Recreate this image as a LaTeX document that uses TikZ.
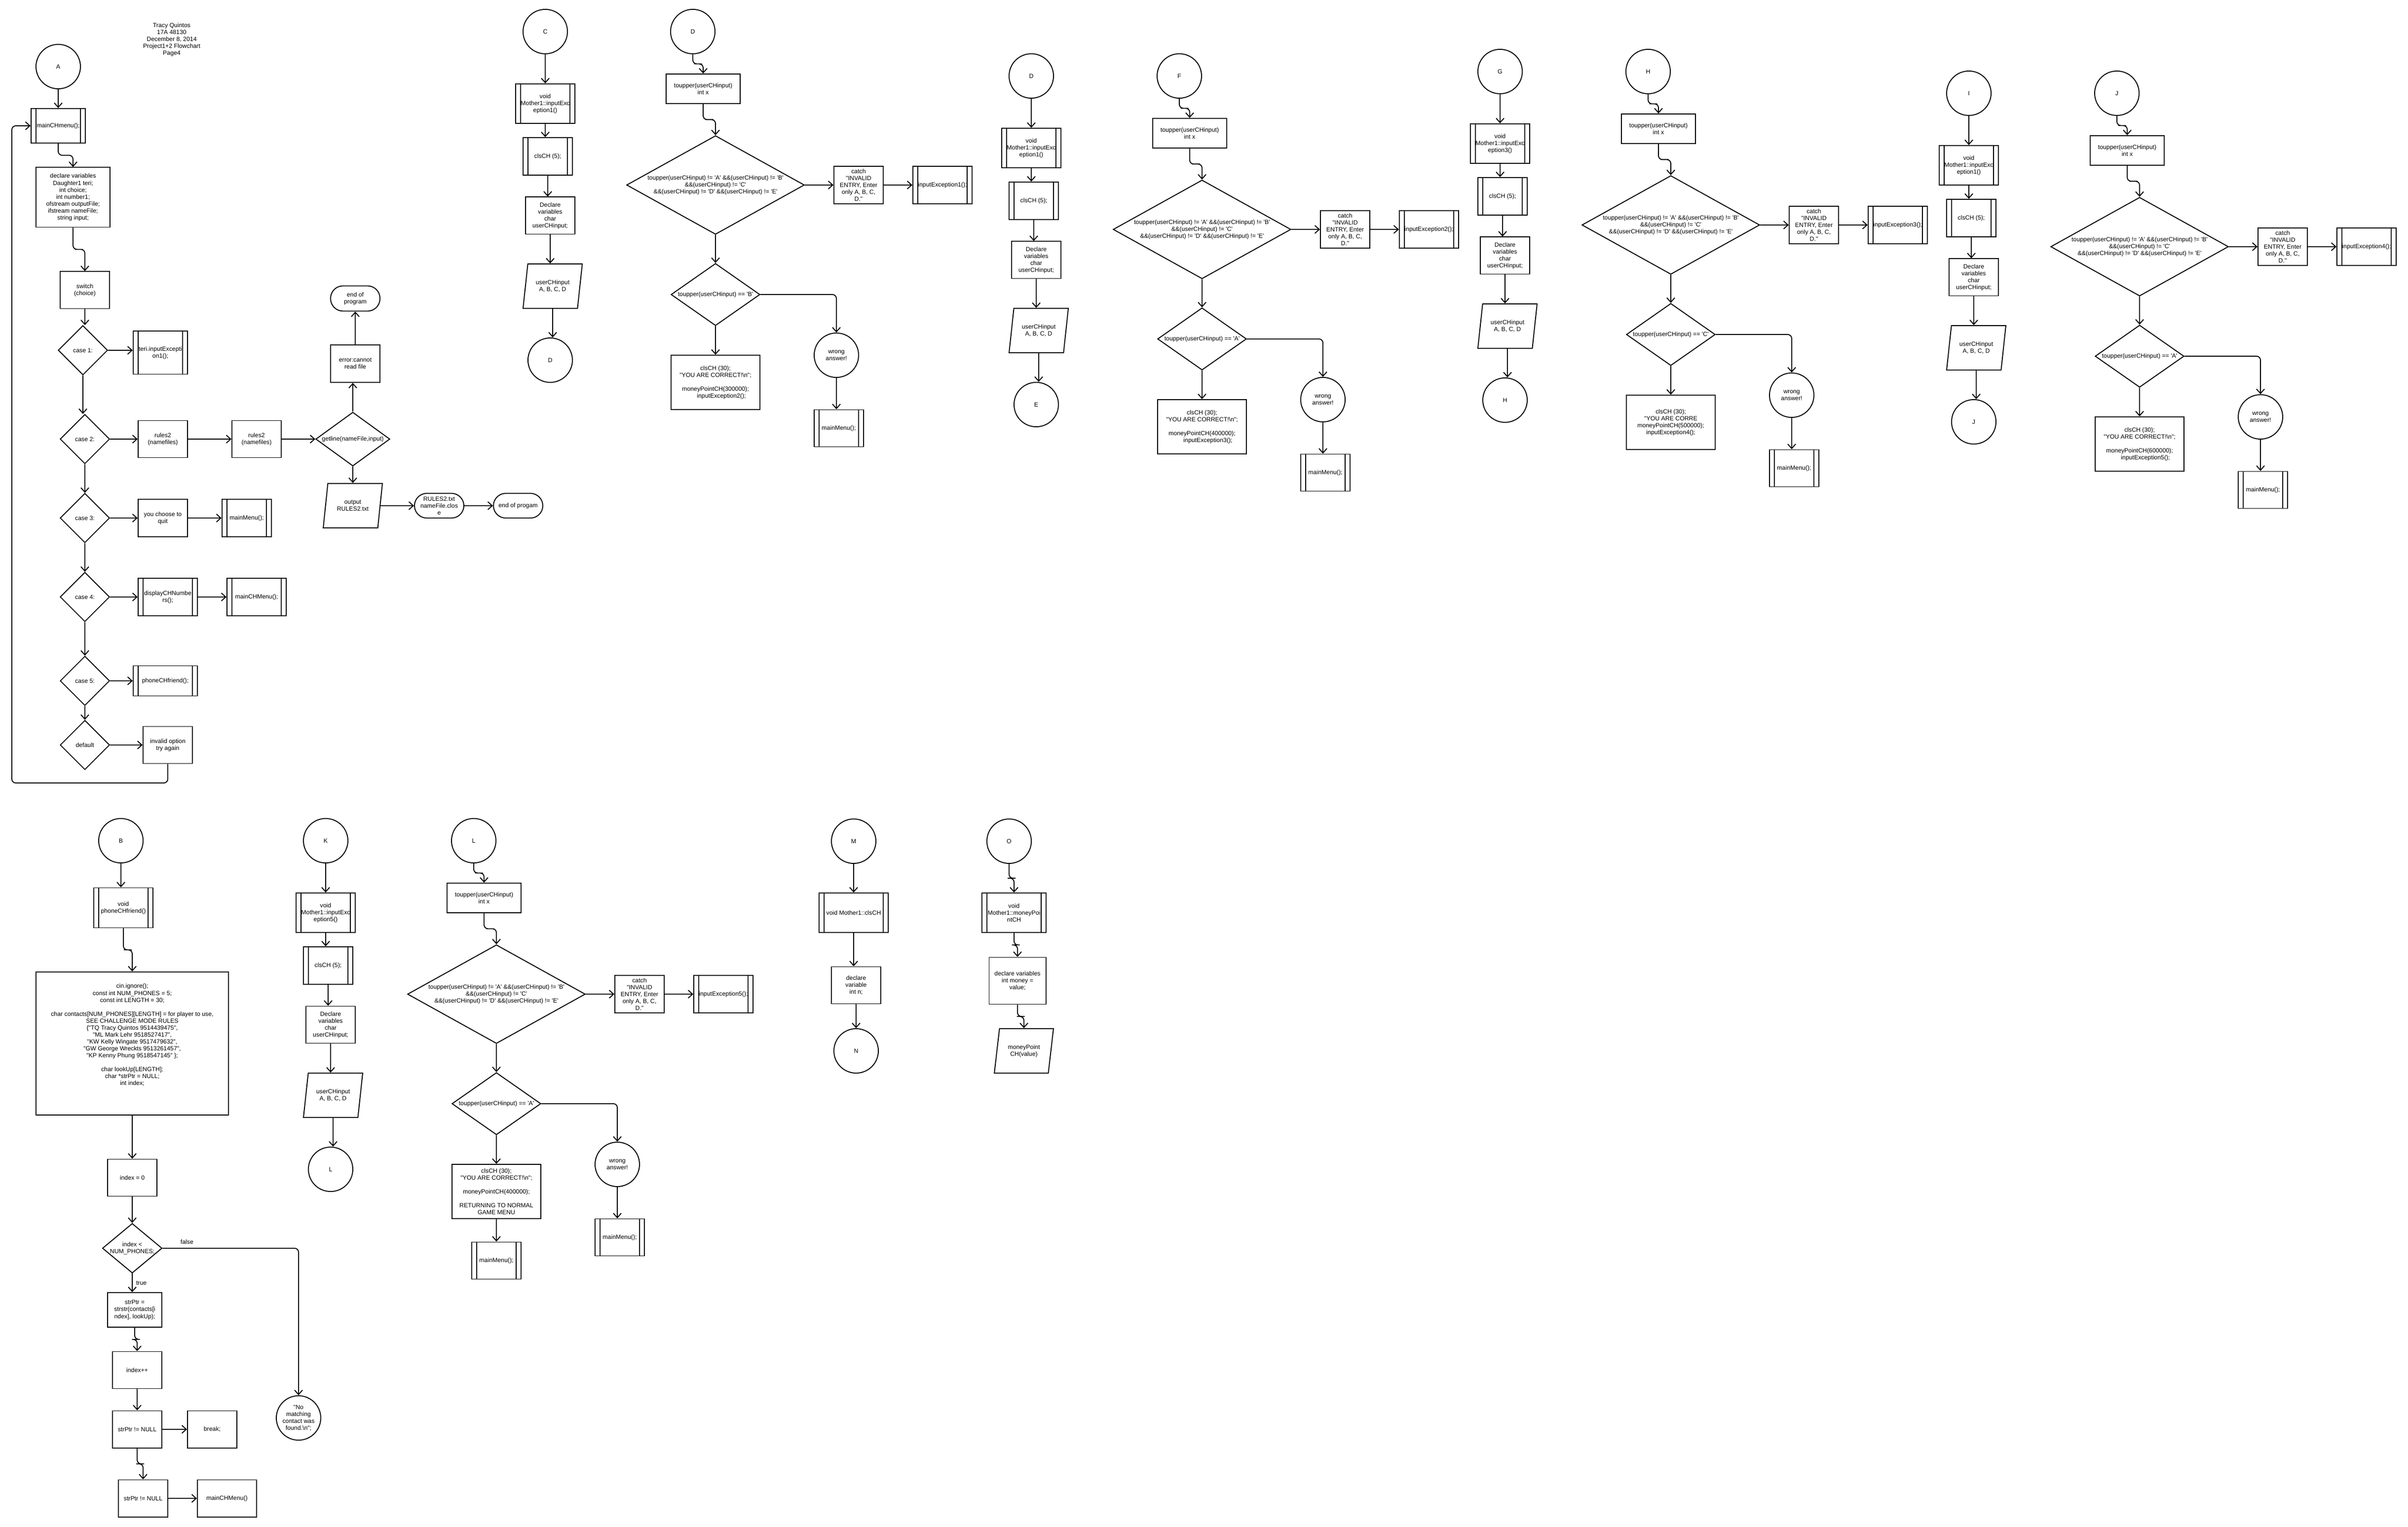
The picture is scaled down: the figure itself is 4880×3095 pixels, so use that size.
\documentclass[tikz,border=0pt]{standalone}
\usepackage{fontspec}
\setmainfont{Liberation Sans}[Ligatures=TeXOff]
\usetikzlibrary{shapes.geometric,arrows.meta,calc}
\newcommand{\chfont}{\fontsize{3.5}{4}\selectfont}

\begin{document}
\begin{tikzpicture}[x=0.01cm, y=-0.01cm,
    every node/.style={font=\chfont, align=center, line width=0.55pt, inner sep=0pt},
    >={Straight Barb[length=0.9mm,width=1.6mm]},
    arr/.style={->, line width=0.55pt, rounded corners=0.8mm},
    zig/.style={to path={|- ($(\tikztostart)!0.5!(\tikztotarget)$) -| (\tikztotarget) \tikztonodes}},
    vdrop/.style={to path={-- (\tikztostart |- \tikztotarget) \tikztonodes}},
    conn/.style={circle, draw, minimum size=0.9cm},
    box/.style={rectangle, draw, minimum width=1cm, minimum height=0.75cm},
    sub/.style={box, path picture={
        \draw[line width=0.55pt] ([xshift=1mm]path picture bounding box.north west) -- ([xshift=1mm]path picture bounding box.south west);
        \draw[line width=0.55pt] ([xshift=-1mm]path picture bounding box.north east) -- ([xshift=-1mm]path picture bounding box.south east);}},
    term/.style={rectangle, draw, rounded corners=2.5mm, minimum width=1cm, minimum height=0.5cm},
    io/.style={trapezium, trapezium left angle=75, trapezium right angle=105, trapezium stretches=true, draw, minimum width=1.2cm, minimum height=0.9cm},
    dec/.style={diamond, draw, minimum width=1cm, minimum height=1cm, aspect=1}]
\useasboundingbox (0,0) rectangle (4880,3095);

% title
\node (title) at (348,80) {Tracy Quintos\\17A 48130\\December 8, 2014\\Project1+2 Flowchart\\Page4};

% A: main menu
\node[conn] (A) at (118,135) {A};
\node[sub, minimum width=1.1cm, minimum height=0.7cm] (Amenu) at (118,255) {mainCHmenu();};
\node[box, minimum width=1.5cm, minimum height=1.21cm] (Adecl) at (148,400) {declare variables\\Daughter1 teri;\\int choice;\\int number1;\\ofstream outputFile;\\ifstream nameFile;\\string input;};
\node[box] (Aswitch) at (172,588) {switch\\(choice)};
\node[dec] (Acase1) at (168,710) {case 1:};
\node[sub, minimum width=1.1cm, minimum height=0.87cm] (Ateri) at (325,715) {teri.inputExcepti\\on1();};
\node[dec] (Acase2) at (172,890) {case 2:};
\node[box] (Arules1) at (330,890) {rules2\\(namefiles)};
\node[box] (Arules2) at (520,890) {rules2\\(namefiles)};
\node[dec, minimum width=1.5cm, minimum height=1.09cm, aspect=1.4] (Agetline) at (715,890) {getline(nameFile,input)};
\node[box, minimum height=0.76cm] (Aerror) at (720,737) {error:cannot\\read file};
\node[term, minimum height=0.51cm] (Aend1) at (720,605) {end of\\program};
\node[io] (Aout) at (715,1025) {output\\RULES2.txt};
\node[term] (Aclose) at (890,1025) {RULES2.txt\\nameFile.clos\\e};
\node[term] (Aend2) at (1050,1025) {end of progam};
\node[dec] (Acase3) at (172,1050) {case 3:};
\node[box, minimum height=0.76cm] (Aquit) at (330,1050) {you choose to\\quit};
\node[sub, minimum height=0.76cm] (Amain) at (500,1050) {mainMenu();};
\node[dec] (Acase4) at (172,1210) {case 4:};
\node[sub, minimum width=1.2cm, minimum height=0.76cm] (Adisp) at (340,1210) {displayCHNumbe\\rs();};
\node[sub, minimum width=1.2cm, minimum height=0.76cm] (Amain2) at (520,1210) {mainCHMenu();};
\node[dec] (Acase5) at (172,1380) {case 5:};
\node[sub, minimum width=1.3cm, minimum height=0.61cm] (Aphone) at (335,1380) {phoneCHfriend();};
\node[dec] (Adefault) at (172,1510) {default};
\node[box] (Ainvalid) at (340,1510) {invalid option\\try again};
\coordinate (Aloop) at (24,1587);

\draw[arr] (A) -- (Amenu);
\draw[arr] (Amenu.south) to[zig] (Adecl.north);
\draw[arr] (Adecl.south) to[zig] (Aswitch.north);
\draw[arr] (Aswitch.south) to[vdrop] (Acase1.north);
\draw[arr] (Acase1.east) -- (Acase1.east -| Ateri.west);
\draw[arr] (Acase1.south) to[vdrop] (Acase2.north);
\draw[arr] (Acase2) -- (Arules1);
\draw[arr] (Arules1) -- (Arules2);
\draw[arr] (Arules2) -- (Agetline);
\draw[arr] (Agetline.north) to[vdrop] (Aerror.south);
\draw[arr] (Aerror) -- (Aend1);
\draw[arr] (Agetline) -- (Aout);
\draw[arr] (Aout) -- (Aclose);
\draw[arr] (Aclose) -- (Aend2);
\draw[arr] (Acase2) -- (Acase3);
\draw[arr] (Acase3) -- (Aquit);
\draw[arr] (Aquit) -- (Amain);
\draw[arr] (Acase3) -- (Acase4);
\draw[arr] (Acase4) -- (Adisp);
\draw[arr] (Adisp) -- (Amain2);
\draw[arr] (Acase4) -- (Acase5);
\draw[arr] (Acase5) -- (Aphone);
\draw[arr] (Acase5) -- (Adefault);
\draw[arr] (Adefault) -- (Ainvalid);
\draw[arr] (Ainvalid.south) |- (Aloop) |- (Amenu.west);

% C: inputException1
\begin{scope}[shift={(1105,64)}]
\node[conn] (Cc) at (0,0) {C};
\node[sub, minimum width=1.2cm, minimum height=0.8cm] (Cvoid) at (0,146) {void\\Mother1::inputExc\\eption1()};
\node[sub, minimum height=0.76cm] (Ccls) at (5,253) {clsCH (5);};
\node[box] (Cdecl) at (10,373) {Declare\\variables\\char\\userCHinput;};
\node[io] (Cin) at (15,516) {userCHinput\\A, B, C, D};
\node[conn] (Cend) at (10,666) {D};
\end{scope}
\draw[arr] (Cc) -- (Cvoid);
\draw[arr] (Cvoid.south) to[vdrop] (Ccls.north);
\draw[arr] (Ccls.south) to[vdrop] (Cdecl.north);
\draw[arr] (Cdecl.south) to[vdrop] (Cin.north);
\draw[arr] (Cin.south) to[vdrop] (Cend.north);

% D: question check
\begin{scope}[shift={(1404,64)}]
\node[conn] (Dc) at (0,0) {D};
\node[box, minimum width=1.5cm, minimum height=0.6cm] (Dup) at (21,116) {toupper(userCHinput)\\int x};
\node[dec, minimum width=3.6cm, minimum height=2cm, aspect=1.8] (Dtest) at (46,311) {toupper(userCHinput) != 'A' \&\&(userCHinput) != 'B'\\\&\&(userCHinput) != 'C'\\\&\&(userCHinput) != 'D' \&\&(userCHinput) != 'E'};
\node[box, minimum height=0.76cm] (Dcatch) at (336,311) {catch\\"INVALID\\ENTRY, Enter\\only A, B, C,\\D."};
\node[sub, minimum width=1.2cm, minimum height=0.76cm] (Dexc) at (506,311) {inputException1();};
\node[dec, minimum width=1.8cm, minimum height=1.26cm, aspect=1.43] (Dcheck) at (46,533) {toupper(userCHinput) == 'B'};
\node[box, minimum width=1.8cm, minimum height=1.1cm] (Dok) at (46,711) {clsCH (30);\\"YOU ARE CORRECT!\textbackslash n";\\[4pt]moneyPointCH(300000);\\\hspace*{0.24cm}inputException2();};
\node[conn] (Dwrong) at (291,656) {wrong\\answer!};
\node[sub] (Dmenu) at (296,804) {mainMenu();};
\end{scope}
\draw[arr] (Dc.south) to[zig] (Dup.north);
\draw[arr] (Dup.south) to[zig] (Dtest.north);
\draw[arr] (Dtest) -- (Dcatch);
\draw[arr] (Dcatch) -- (Dexc);
\draw[arr] (Dtest) -- (Dcheck);
\draw[arr] (Dcheck) -- (Dok);
\draw[arr] (Dcheck.east) -| (Dwrong.north);
\draw[arr] (Dwrong.south) to[vdrop] (Dmenu.north);

% D: inputException1 (second page)
\begin{scope}[shift={(2090,154)}]
\node[conn] (Ec) at (0,0) {D};
\node[sub, minimum width=1.2cm, minimum height=0.8cm] (Evoid) at (0,146) {void\\Mother1::inputExc\\eption1()};
\node[sub, minimum height=0.76cm] (Ecls) at (5,253) {clsCH (5);};
\node[box] (Edecl) at (10,373) {Declare\\variables\\char\\userCHinput;};
\node[io] (Ein) at (15,516) {userCHinput\\A, B, C, D};
\node[conn] (Eend) at (10,666) {E};
\end{scope}
\draw[arr] (Ec) -- (Evoid);
\draw[arr] (Evoid.south) to[vdrop] (Ecls.north);
\draw[arr] (Ecls.south) to[vdrop] (Edecl.north);
\draw[arr] (Edecl.south) to[vdrop] (Ein.north);
\draw[arr] (Ein.south) to[vdrop] (Eend.north);

% F: question check
\begin{scope}[shift={(2390,154)}]
\node[conn] (Fc) at (0,0) {F};
\node[box, minimum width=1.5cm, minimum height=0.6cm] (Fup) at (21,116) {toupper(userCHinput)\\int x};
\node[dec, minimum width=3.6cm, minimum height=2cm, aspect=1.8] (Ftest) at (46,311) {toupper(userCHinput) != 'A' \&\&(userCHinput) != 'B'\\\&\&(userCHinput) != 'C'\\\&\&(userCHinput) != 'D' \&\&(userCHinput) != 'E'};
\node[box, minimum height=0.76cm] (Fcatch) at (336,311) {catch\\"INVALID\\ENTRY, Enter\\only A, B, C,\\D."};
\node[sub, minimum width=1.2cm, minimum height=0.76cm] (Fexc) at (506,311) {inputException2();};
\node[dec, minimum width=1.8cm, minimum height=1.26cm, aspect=1.43] (Fcheck) at (46,533) {toupper(userCHinput) == 'A'};
\node[box, minimum width=1.8cm, minimum height=1.1cm] (Fok) at (46,711) {clsCH (30);\\"YOU ARE CORRECT!\textbackslash n";\\[4pt]moneyPointCH(400000);\\\hspace*{0.24cm}inputException3();};
\node[conn] (Fwrong) at (291,656) {wrong\\answer!};
\node[sub] (Fmenu) at (296,804) {mainMenu();};
\end{scope}
\draw[arr] (Fc.south) to[zig] (Fup.north);
\draw[arr] (Fup.south) to[zig] (Ftest.north);
\draw[arr] (Ftest) -- (Fcatch);
\draw[arr] (Fcatch) -- (Fexc);
\draw[arr] (Ftest) -- (Fcheck);
\draw[arr] (Fcheck) -- (Fok);
\draw[arr] (Fcheck.east) -| (Fwrong.north);
\draw[arr] (Fwrong.south) to[vdrop] (Fmenu.north);

% G: inputException3
\begin{scope}[shift={(3040,145)}]
\node[conn] (Gc) at (0,0) {G};
\node[sub, minimum width=1.2cm, minimum height=0.8cm] (Gvoid) at (0,146) {void\\Mother1::inputExc\\eption3()};
\node[sub, minimum height=0.76cm] (Gcls) at (5,253) {clsCH (5);};
\node[box] (Gdecl) at (10,373) {Declare\\variables\\char\\userCHinput;};
\node[io] (Gin) at (15,516) {userCHinput\\A, B, C, D};
\node[conn] (Gend) at (10,666) {H};
\end{scope}
\draw[arr] (Gc) -- (Gvoid);
\draw[arr] (Gvoid.south) to[vdrop] (Gcls.north);
\draw[arr] (Gcls.south) to[vdrop] (Gdecl.north);
\draw[arr] (Gdecl.south) to[vdrop] (Gin.north);
\draw[arr] (Gin.south) to[vdrop] (Gend.north);

% H: question check
\begin{scope}[shift={(3340,145)}]
\node[conn] (Hc) at (0,0) {H};
\node[box, minimum width=1.5cm, minimum height=0.6cm] (Hup) at (21,116) {toupper(userCHinput)\\int x};
\node[dec, minimum width=3.6cm, minimum height=2cm, aspect=1.8] (Htest) at (46,311) {toupper(userCHinput) != 'A' \&\&(userCHinput) != 'B'\\\&\&(userCHinput) != 'C'\\\&\&(userCHinput) != 'D' \&\&(userCHinput) != 'E'};
\node[box, minimum height=0.76cm] (Hcatch) at (336,311) {catch\\"INVALID\\ENTRY, Enter\\only A, B, C,\\D."};
\node[sub, minimum width=1.2cm, minimum height=0.76cm] (Hexc) at (506,311) {inputException3();};
\node[dec, minimum width=1.8cm, minimum height=1.26cm, aspect=1.43] (Hcheck) at (46,533) {toupper(userCHinput) == 'C'};
\node[box, minimum width=1.8cm, minimum height=1.1cm] (Hok) at (46,711) {clsCH (30);\\"YOU ARE CORRE\\moneyPointCH(500000);\\inputException4();};
\node[conn] (Hwrong) at (291,656) {wrong\\answer!};
\node[sub] (Hmenu) at (296,804) {mainMenu();};
\end{scope}
\draw[arr] (Hc.south) to[zig] (Hup.north);
\draw[arr] (Hup.south) to[zig] (Htest.north);
\draw[arr] (Htest) -- (Hcatch);
\draw[arr] (Hcatch) -- (Hexc);
\draw[arr] (Htest) -- (Hcheck);
\draw[arr] (Hcheck) -- (Hok);
\draw[arr] (Hcheck.east) -| (Hwrong.north);
\draw[arr] (Hwrong.south) to[vdrop] (Hmenu.north);

% I: inputException4
\begin{scope}[shift={(3990,189)}]
\node[conn] (Ic) at (0,0) {I};
\node[sub, minimum width=1.2cm, minimum height=0.8cm] (Ivoid) at (0,146) {void\\Mother1::inputExc\\eption1()};
\node[sub, minimum height=0.76cm] (Icls) at (5,253) {clsCH (5);};
\node[box] (Idecl) at (10,373) {Declare\\variables\\char\\userCHinput;};
\node[io] (Iin) at (15,516) {userCHinput\\A, B, C, D};
\node[conn] (Iend) at (10,666) {J};
\end{scope}
\draw[arr] (Ic) -- (Ivoid);
\draw[arr] (Ivoid.south) to[vdrop] (Icls.north);
\draw[arr] (Icls.south) to[vdrop] (Idecl.north);
\draw[arr] (Idecl.south) to[vdrop] (Iin.north);
\draw[arr] (Iin.south) to[vdrop] (Iend.north);

% J: question check
\begin{scope}[shift={(4290,189)}]
\node[conn] (Jc) at (0,0) {J};
\node[box, minimum width=1.5cm, minimum height=0.6cm] (Jup) at (21,116) {toupper(userCHinput)\\int x};
\node[dec, minimum width=3.6cm, minimum height=2cm, aspect=1.8] (Jtest) at (46,311) {toupper(userCHinput) != 'A' \&\&(userCHinput) != 'B'\\\&\&(userCHinput) != 'C'\\\&\&(userCHinput) != 'D' \&\&(userCHinput) != 'E'};
\node[box, minimum height=0.76cm] (Jcatch) at (336,311) {catch\\"INVALID\\ENTRY, Enter\\only A, B, C,\\D."};
\node[sub, minimum width=1.2cm, minimum height=0.76cm] (Jexc) at (506,311) {inputException4();};
\node[dec, minimum width=1.8cm, minimum height=1.26cm, aspect=1.43] (Jcheck) at (46,533) {toupper(userCHinput) == 'A'};
\node[box, minimum width=1.8cm, minimum height=1.1cm] (Jok) at (46,711) {clsCH (30);\\"YOU ARE CORRECT!\textbackslash n";\\[4pt]moneyPointCH(600000);\\\hspace*{0.24cm}inputException5();};
\node[conn] (Jwrong) at (291,656) {wrong\\answer!};
\node[sub] (Jmenu) at (296,804) {mainMenu();};
\end{scope}
\draw[arr] (Jc.south) to[zig] (Jup.north);
\draw[arr] (Jup.south) to[zig] (Jtest.north);
\draw[arr] (Jtest) -- (Jcatch);
\draw[arr] (Jcatch) -- (Jexc);
\draw[arr] (Jtest) -- (Jcheck);
\draw[arr] (Jcheck) -- (Jok);
\draw[arr] (Jcheck.east) -| (Jwrong.north);
\draw[arr] (Jwrong.south) to[vdrop] (Jmenu.north);

% B: phone a friend
\node[conn] (Bc) at (245,1704) {B};
\node[sub, minimum width=1.2cm, minimum height=0.81cm] (Bvoid) at (250,1840) {void\\phoneCHfriend()};
\node[box, minimum width=3.9cm, minimum height=2.9cm] (Bdecl) at (268,2115) {cin.ignore();\\const int NUM\_PHONES = 5;\\const int LENGTH = 30;\\[4pt]char contacts[NUM\_PHONES][LENGTH] = for player to use,\\SEE CHALLENGE MODE RULES\\\{"TQ Tracy Quintos 9514439475",\\"ML Mark Lehr 9518527417",\\"KW Kelly Wingate 9517479632",\\"GW George Wreckts 9513261457",\\"KP Kenny Phung 9518547145" \};\\[4pt]char lookUp[LENGTH];\\char *strPtr = NULL;\\int index;\\[0.22cm]\mbox{}};
\node[box] (Bzero) at (268,2387) {index = 0};
\node[dec, minimum width=1.2cm, minimum height=1cm, aspect=1.2] (Bloop) at (268,2530) {index <\\NUM\_PHONES;};
\node[box, minimum width=1.1cm, minimum height=0.7cm] (Bfind) at (273,2655) {strPtr =\\strstr(contacts[i\\ndex], lookUp);};
\node[box] (Binc) at (278,2777) {index++};
\node[box] (Bnull1) at (278,2897) {strPtr != NULL};
\node[box] (Bbreak) at (430,2897) {break;};
\node[box] (Bnull2) at (290,3037) {strPtr != NULL};
\node[box, minimum width=1.2cm] (Bmenu) at (460,3037) {mainCHMenu()};
\node[conn] (Bnone) at (605,2874) {"No\\matching\\contact was\\found.\textbackslash n";};

\draw[arr] (Bc.south) to[vdrop] (Bvoid.north);
\draw[arr] (Bvoid.south) to[zig] (Bdecl.north);
\draw[arr] (Bdecl) -- (Bzero);
\draw[arr] (Bzero) -- (Bloop);
\draw[arr] (Bloop.south) to[vdrop] node[midway, right, inner sep=2pt] {true} (Bfind.north);
\draw[arr] (Bloop.east) -| node[pos=0.09, above, inner sep=2pt] {false} (Bnone.north);
\draw[arr] (Bfind.south) to[zig] (Binc.north);
\draw[arr] (Binc) -- (Bnull1);
\draw[arr] (Bnull1) -- (Bbreak);
\draw[arr] (Bnull1.south) to[zig] (Bnull2.north);
\draw[arr] (Bnull2) -- (Bmenu);

% K: inputException5
\begin{scope}[shift={(660,1704)}]
\node[conn] (Kc) at (0,0) {K};
\node[sub, minimum width=1.2cm, minimum height=0.8cm] (Kvoid) at (0,146) {void\\Mother1::inputExc\\eption5()};
\node[sub, minimum height=0.76cm] (Kcls) at (5,253) {clsCH (5);};
\node[box] (Kdecl) at (10,373) {Declare\\variables\\char\\userCHinput;};
\node[io] (Kin) at (15,516) {userCHinput\\A, B, C, D};
\node[conn] (Kend) at (10,666) {L};
\end{scope}
\draw[arr] (Kc) -- (Kvoid);
\draw[arr] (Kvoid.south) to[vdrop] (Kcls.north);
\draw[arr] (Kcls.south) to[vdrop] (Kdecl.north);
\draw[arr] (Kdecl.south) to[vdrop] (Kin.north);
\draw[arr] (Kin.south) to[vdrop] (Kend.north);

% L: last question
\begin{scope}[shift={(960,1704)}]
\node[conn] (Lc) at (0,0) {L};
\node[box, minimum width=1.5cm, minimum height=0.6cm] (Lup) at (21,116) {toupper(userCHinput)\\int x};
\node[dec, minimum width=3.6cm, minimum height=2cm, aspect=1.8] (Ltest) at (46,311) {toupper(userCHinput) != 'A' \&\&(userCHinput) != 'B'\\\&\&(userCHinput) != 'C'\\\&\&(userCHinput) != 'D' \&\&(userCHinput) != 'E'};
\node[box, minimum height=0.76cm] (Lcatch) at (336,311) {catch\\"INVALID\\ENTRY, Enter\\only A, B, C,\\D."};
\node[sub, minimum width=1.2cm, minimum height=0.76cm] (Lexc) at (506,311) {inputException5();};
\node[dec, minimum width=1.8cm, minimum height=1.26cm, aspect=1.43] (Lcheck) at (46,533) {toupper(userCHinput) == 'A'};
\node[box, minimum width=1.8cm, minimum height=1.1cm] (Lok) at (46,711) {clsCH (30);\\"YOU ARE CORRECT!\textbackslash n";\\[4pt]moneyPointCH(400000);\\[4pt]RETURNING TO NORMAL\\GAME MENU};
\node[sub] (Lmenu2) at (46,851) {mainMenu();};
\node[conn] (Lwrong) at (291,656) {wrong\\answer!};
\node[sub] (Lmenu) at (296,804) {mainMenu();};
\end{scope}
\draw[arr] (Lc.south) to[zig] (Lup.north);
\draw[arr] (Lup.south) to[zig] (Ltest.north);
\draw[arr] (Ltest) -- (Lcatch);
\draw[arr] (Lcatch) -- (Lexc);
\draw[arr] (Ltest) -- (Lcheck);
\draw[arr] (Lcheck) -- (Lok);
\draw[arr] (Lok) -- (Lmenu2);
\draw[arr] (Lcheck.east) -| (Lwrong.north);
\draw[arr] (Lwrong.south) to[vdrop] (Lmenu.north);

% M: clsCH
\node[conn] (Mc) at (1730,1705) {M};
\node[sub, minimum width=1.4cm, minimum height=0.8cm] (Mvoid) at (1730,1850) {void Mother1::clsCH};
\node[box] (Mdecl) at (1735,1997) {declare\\variable\\int n;};
\node[conn] (Mend) at (1735,2130) {N};
\draw[arr] (Mc) -- (Mvoid);
\draw[arr] (Mvoid.south) to[vdrop] (Mdecl.north);
\draw[arr] (Mdecl) -- (Mend);

% O: moneyPointCH
\node[conn] (Oc) at (2045,1705) {O};
\node[sub, minimum width=1.3cm, minimum height=0.8cm] (Ovoid) at (2055,1850) {void\\Mother1::moneyPoi\\ntCH};
\node[box, minimum width=1.15cm, minimum height=0.95cm] (Odecl) at (2062,1988) {declare variables\\int money =\\value;};
\node[io] (Oout) at (2075,2130) {moneyPoint\\CH(value)};
\draw[arr] (Oc.south) to[zig] (Ovoid.north);
\draw[arr] (Ovoid.south) to[zig] (Odecl.north);
\draw[arr] (Odecl.south) to[zig] (Oout.north);
\end{tikzpicture}
\end{document}
